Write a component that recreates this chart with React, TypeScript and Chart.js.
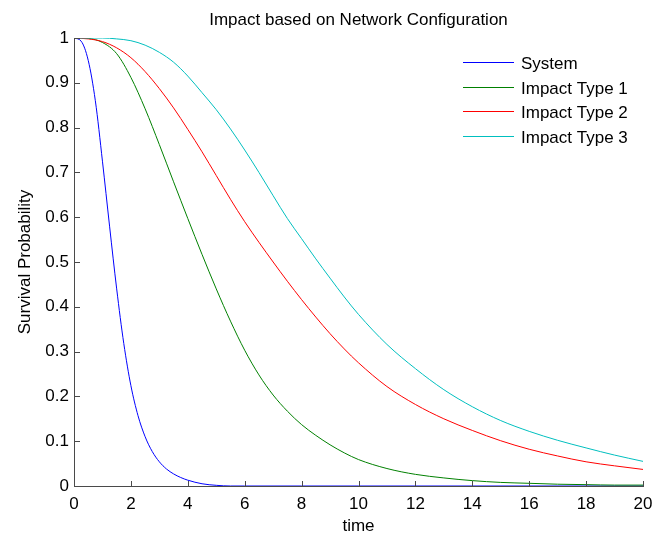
import { useEffect, useRef } from 'react';
import { Chart, registerables } from 'chart.js';

Chart.register(...registerables);

const chartTitle = 'Impact based on Network Configuration';
const xAxisTitle = 'time';
const yAxisTitle = 'Survival Probability';

const seriesLabels = ['System', 'Impact Type 1', 'Impact Type 2', 'Impact Type 3'];
const seriesColors = ['#0000FF', '#008000', '#FF0000', '#00BFBF'];

const xTickValues = [0, 2, 4, 6, 8, 10, 12, 14, 16, 18, 20];
const xTickLabels = ['0', '2', '4', '6', '8', '10', '12', '14', '16', '18', '20'];
const yTickValues = [0, 0.1, 0.2, 0.3, 0.4, 0.5, 0.6, 0.7, 0.8, 0.9, 1];
const yTickLabels = ['0', '0.1', '0.2', '0.3', '0.4', '0.5', '0.6', '0.7', '0.8', '0.9', '1'];

const systemTime = [0, 0.25, 0.5, 0.75, 1, 1.25, 1.5, 1.75, 2, 2.25, 2.5, 2.75, 3, 3.25, 3.5, 3.75, 4, 4.5, 5, 5.5, 6, 8, 10, 12, 14, 16, 18, 20];
const systemValues = [1, 0.993, 0.95, 0.86, 0.725, 0.58, 0.44, 0.318, 0.224, 0.157, 0.11, 0.077, 0.054, 0.038, 0.027, 0.019, 0.013, 0.005, 0.0015, 0, 0, 0, 0, 0, 0, 0, 0, 0];

const impactTime = [0, 0.5, 1, 1.5, 2, 2.5, 3, 3.5, 4, 4.5, 5, 5.5, 6, 6.5, 7, 7.5, 8, 8.5, 9, 9.5, 10, 11, 12, 13, 14, 15, 16, 17, 18, 19, 20];
const impactType1 = [1, 0.999, 0.99, 0.965, 0.912, 0.842, 0.762, 0.679, 0.597, 0.517, 0.44, 0.368, 0.303, 0.248, 0.203, 0.167, 0.137, 0.113, 0.092, 0.074, 0.059, 0.039, 0.026, 0.018, 0.012, 0.008, 0.006, 0.004, 0.003, 0.002, 0.002];
const impactType2 = [1, 0.998, 0.992, 0.978, 0.956, 0.925, 0.887, 0.844, 0.796, 0.746, 0.693, 0.64, 0.59, 0.544, 0.5, 0.457, 0.416, 0.377, 0.34, 0.306, 0.275, 0.222, 0.182, 0.15, 0.124, 0.101, 0.082, 0.067, 0.054, 0.045, 0.037];
const impactType3 = [1, 1, 1, 0.998, 0.994, 0.984, 0.968, 0.946, 0.915, 0.878, 0.84, 0.797, 0.75, 0.7, 0.648, 0.597, 0.552, 0.507, 0.464, 0.422, 0.383, 0.316, 0.262, 0.215, 0.177, 0.146, 0.122, 0.102, 0.085, 0.069, 0.055];

const FONT_FAMILY = '"Liberation Sans", Arial, sans-serif';
const AXIS_COLOR = '#4a4a4a';

const toPoints = (xs: number[], ys: number[]) => xs.map((x, i) => ({ x, y: ys[i] }));

const inwardTicks = {
  id: 'inwardTicks',
  afterDatasetsDraw(chart: any) {
    const { ctx, chartArea, scales } = chart;
    ctx.save();
    ctx.strokeStyle = AXIS_COLOR;
    ctx.lineWidth = 1;
    scales.x.ticks.forEach((t: any) => {
      const px = Math.round(scales.x.getPixelForValue(t.value)) + 0.5;
      ctx.beginPath();
      ctx.moveTo(px, chartArea.bottom);
      ctx.lineTo(px, chartArea.bottom - 5);
      ctx.stroke();
    });
    scales.y.ticks.forEach((t: any) => {
      const py = Math.round(scales.y.getPixelForValue(t.value)) + 0.5;
      ctx.beginPath();
      ctx.moveTo(chartArea.left, py);
      ctx.lineTo(chartArea.left + 6, py);
      ctx.stroke();
    });
    ctx.restore();
  },
};

const innerLegend = {
  id: 'innerLegend',
  afterDraw(chart: any) {
    const { ctx, chartArea } = chart;
    const x0 = chartArea.right - 180;
    const x1 = x0 + 51;
    const tx = x1 + 7;
    ctx.save();
    seriesLabels.forEach((label, i) => {
      const y = Math.round(chartArea.top + 24 + i * 24.5) + 0.5;
      ctx.strokeStyle = seriesColors[i];
      ctx.lineWidth = 1;
      ctx.beginPath();
      ctx.moveTo(x0, y);
      ctx.lineTo(x1, y);
      ctx.stroke();
      ctx.fillStyle = '#000';
      ctx.font = `17px ${FONT_FAMILY}`;
      ctx.textBaseline = 'middle';
      ctx.textAlign = 'left';
      ctx.fillText(label, tx, y + 1.5);
    });
    ctx.restore();
  },
};

export default function App() {
  const ref = useRef<HTMLCanvasElement | null>(null);

  useEffect(() => {
    if (!ref.current) return;
    const font = { family: FONT_FAMILY, size: 17, weight: 'normal' as const };
    const seriesData = [
      toPoints(systemTime, systemValues),
      toPoints(impactTime, impactType1),
      toPoints(impactTime, impactType2),
      toPoints(impactTime, impactType3),
    ];
    const chart = new Chart(ref.current, {
      type: 'line',
      data: {
        datasets: seriesData.map((d, i) => ({
          label: seriesLabels[i],
          data: d,
          borderColor: seriesColors[i],
          backgroundColor: seriesColors[i],
          borderWidth: 1,
          pointRadius: 0,
          fill: false,
          cubicInterpolationMode: 'monotone' as const,
          order: seriesLabels.length - i,
        })),
      },
      options: {
        animation: false,
        responsive: false,
        devicePixelRatio: 1,
        layout: { padding: { left: 0, right: 25, top: 0, bottom: 0 } },
        plugins: {
          legend: { display: false },
          tooltip: { enabled: false },
          title: {
            display: true,
            fullSize: false,
            text: chartTitle,
            color: '#000',
            font,
            padding: { top: 10, bottom: 7.6 },
          },
        },
        scales: {
          x: {
            type: 'linear',
            min: 0,
            max: 20,
            afterBuildTicks: (s: any) => {
              s.ticks = xTickValues.map((v) => ({ value: v }));
            },
            ticks: {
              color: '#000',
              font,
              padding: 8,
              maxRotation: 0,
              autoSkip: false,
              callback: (_v: any, i: number) => xTickLabels[i],
            },
            grid: { display: true, drawOnChartArea: false, drawTicks: false },
            border: { display: true, color: AXIS_COLOR, width: 1 },
            title: { display: true, text: xAxisTitle, color: '#000', font, padding: { top: 0, bottom: -4 } },
            afterFit: (s: any) => {
              s.height = 47;
            },
          },
          y: {
            type: 'linear',
            min: 0,
            max: 1,
            afterBuildTicks: (s: any) => {
              s.ticks = yTickValues.map((v) => ({ value: v }));
            },
            ticks: {
              color: '#000',
              font,
              padding: 5,
              autoSkip: false,
              callback: (_v: any, i: number) => yTickLabels[i],
            },
            grid: { display: true, drawOnChartArea: false, drawTicks: false },
            border: { display: true, color: AXIS_COLOR, width: 1 },
            title: { display: true, text: yAxisTitle, color: '#000', font, padding: { top: 15, bottom: 0 } },
            afterFit: (s: any) => {
              s.width = 74;
            },
          },
        },
      },
      plugins: [inwardTicks, innerLegend],
    });
    return () => chart.destroy();
  }, []);

  return (
    <div style={{ position: 'absolute', left: 0, top: 0, width: 668, height: 533, background: '#fff' }}>
      <canvas ref={ref} width={668} height={533} style={{ width: 668, height: 533, display: 'block' }} />
    </div>
  );
}
